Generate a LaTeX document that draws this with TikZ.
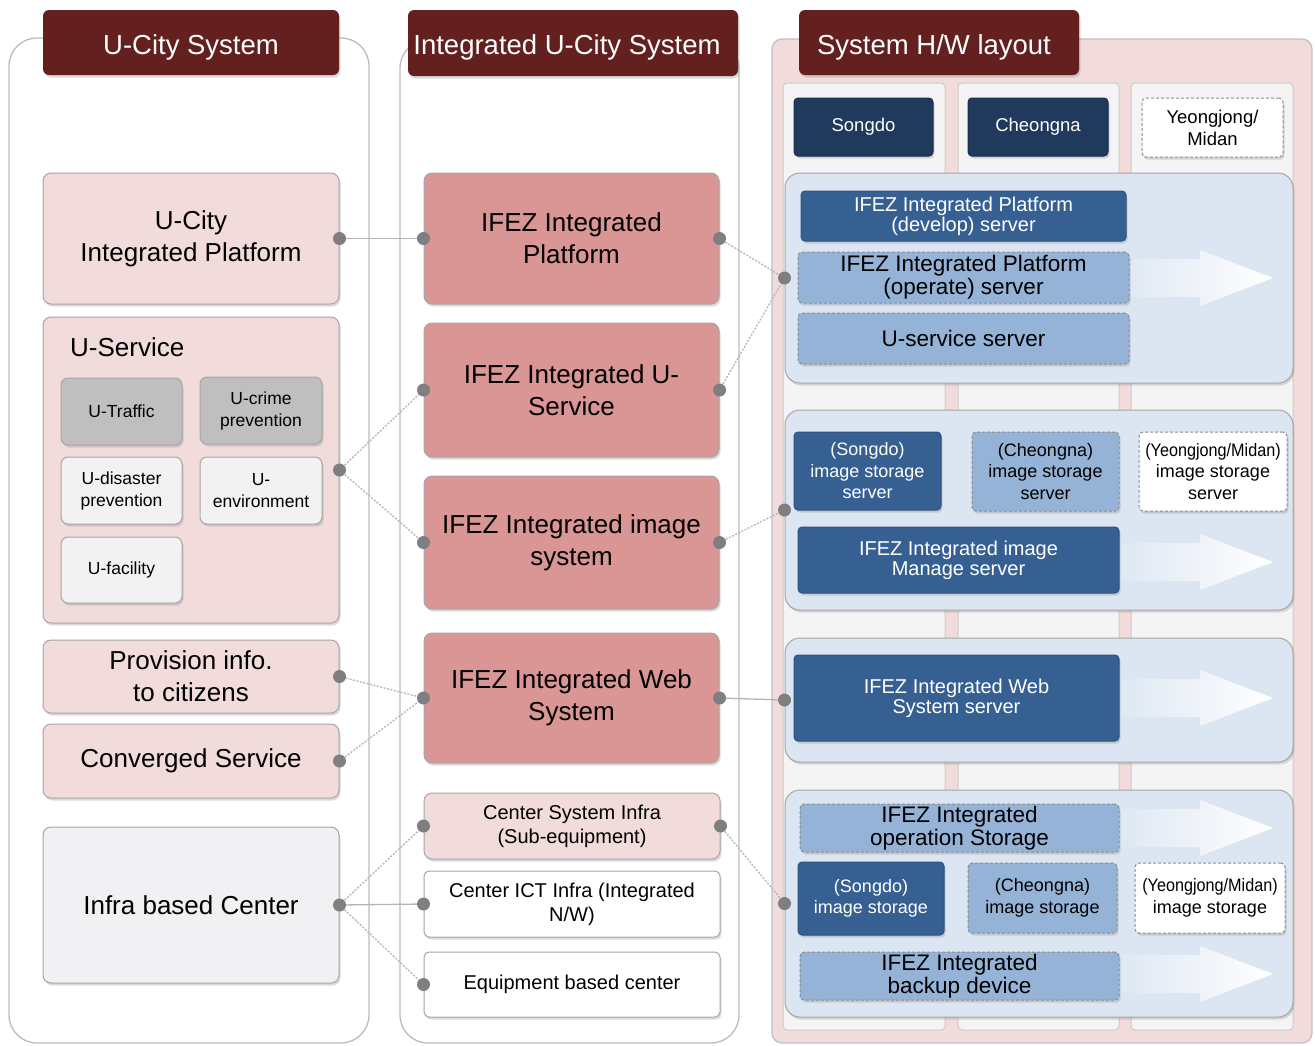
\documentclass[tikz,border=0pt]{standalone}
\usepackage{fontspec}
\setmainfont{Liberation Sans}
\newfontfamily\narrowfont[FakeStretch=0.9]{Liberation Sans}
\usetikzlibrary{shadows}
\definecolor{maroon}{HTML}{63201F}
\definecolor{pinkL}{HTML}{F2DCDB}
\definecolor{pinkD}{HTML}{D99694}
\definecolor{grayS}{HTML}{BFBFBF}
\definecolor{lightS}{HTML}{F2F2F2}
\definecolor{infraC}{HTML}{F1F1F3}
\definecolor{navy}{HTML}{1F3A5C}
\definecolor{midblue}{HTML}{366092}
\definecolor{lightblue}{HTML}{95B3D7}
\definecolor{bluebg}{HTML}{DCE6F2}
\definecolor{subcolC}{HTML}{F4F4F4}
\definecolor{dotC}{HTML}{7F7F7F}
\definecolor{lineC}{HTML}{B5B5B5}
\definecolor{borderC}{HTML}{A6A6A6}
\newcommand\mkbox[7]{\node[#2, minimum width={#5-#3}, minimum height={#6-#4}] (#1) at ({(#3+#5)/2},{(#4+#6)/2}) {#7};}
\newcommand\hwarrow[1]{\shade[left color=bluebg, right color=white] (1110,#1-19) -- (1200,#1-19) -- (1200,#1-28) -- (1273,#1) -- (1200,#1+28) -- (1200,#1+19) -- (1110,#1+19) -- cycle;}
\tikzset{
  f26/.style={font=\fontsize{26}{32}\selectfont},
  f27/.style={font=\fontsize{27.5}{32}\selectfont},
  f225/.style={font=\fontsize{22.5}{23}\selectfont},
  f20/.style={font=\fontsize{20}{24}\selectfont},
  f20s/.style={font=\fontsize{20}{20}\selectfont},
  f185/.style={font=\fontsize{18.5}{22}\selectfont},
  f18/.style={font=\fontsize{18}{21.5}\selectfont},
  f17/.style={font=\fontsize{17.5}{22}\selectfont},
  shad/.style={drop shadow={opacity=0.28, shadow xshift=1.5pt, shadow yshift=-2.5pt}},
  box/.style={rounded corners=8pt, draw=borderC, line width=1pt, align=center, inner sep=1pt, text=black, shad},
  hdr/.style={box, fill=maroon, draw=none, rounded corners=6pt},
  hdrtext/.style={text=white, f27, anchor=base, inner sep=0pt},
  pinkbox/.style={box, fill=pinkL},
  redbox/.style={box, fill=pinkD},
  graybox/.style={box, fill=grayS, rounded corners=7pt},
  ltbox/.style={box, fill=lightS, rounded corners=7pt},
  infrabox/.style={box, fill=infraC},
  whbox/.style={box, fill=white, rounded corners=5pt},
  navybox/.style={box, fill=navy, draw=navy!80!black, text=white, rounded corners=4pt},
  midbox/.style={box, fill=midblue, draw=midblue!85!black, text=white, rounded corners=4pt},
  ltbluedash/.style={box, fill=lightblue, draw=black!45, dash pattern=on 3pt off 2pt, rounded corners=4pt},
  whdash/.style={box, fill=white, draw=black!45, dash pattern=on 3pt off 2pt, rounded corners=4pt},
  grpbox/.style={box, fill=bluebg, draw=borderC, rounded corners=15pt},
  panel/.style={draw=borderC!75, line width=1.3pt, fill=white, rounded corners=28pt},
  rpanel/.style={draw=borderC!70, line width=1.3pt, fill=pinkL, rounded corners=10pt},
  subcol/.style={draw=black!20, line width=1pt, fill=subcolC, rounded corners=4pt},
  dot/.style={circle, fill=dotC, inner sep=0pt, minimum size=13pt},
  solidlink/.style={draw=lineC, line width=1.3pt},
  dotlink/.style={draw=lineC, line width=1.3pt, dash pattern=on 2pt off 1.5pt},
}
\begin{document}
\begin{tikzpicture}[x=1pt,y=-1pt]
\useasboundingbox (0,0) rectangle (1315,1045);
% panels
\draw[panel] (9,38) rectangle (369,1043);
\draw[panel] (400,40) rectangle (739,1043);
\draw[rpanel] (772,39) rectangle (1312,1043);
\draw[subcol] (783,83) rectangle (945,1030);
\draw[subcol] (958,83) rectangle (1119,1030);
\draw[subcol] (1131,83) rectangle (1293,1030);
% headers
\mkbox{h1}{hdr}{43}{10}{339}{75}{}
\mkbox{h2}{hdr}{408}{10}{738}{76}{}
\mkbox{h3}{hdr}{799}{10}{1079}{75}{}
\node[hdrtext] (h1t) at (191,54) {U-City System};
\node[hdrtext] (h2t) at (567,54) {Integrated U-City System};
\node[hdrtext] (h3t) at (934,54) {System H/W layout};
% column 1
\mkbox{ucip}{pinkbox,f26}{43}{173}{339}{304}{U-City\\Integrated Platform}
\mkbox{usv}{pinkbox}{43}{317}{339}{623}{}
\node[f26, anchor=west, inner sep=0pt] (usvt) at (70,347) {U-Service};
\mkbox{utr}{graybox,f17}{61}{378}{182}{445}{U-Traffic}
\mkbox{ucr}{graybox,f17}{200}{377}{322}{444}{U-crime\\prevention}
\mkbox{udi}{ltbox,f17}{61}{457}{182}{524}{U-disaster\\prevention}
\mkbox{uen}{ltbox,f17}{200}{457}{322}{524}{U-\\environment}
\mkbox{ufa}{ltbox,f17}{61}{537}{182}{603}{U-facility}
\mkbox{prov}{pinkbox,f26}{43}{640}{339}{713}{Provision info.\\to citizens}
\mkbox{conv}{pinkbox,f26}{43}{724}{339}{798}{Converged Service}
\mkbox{ibc}{infrabox,f26}{43}{827}{339}{983}{Infra based Center}
% column 2
\mkbox{ifp}{redbox,f26}{424}{173}{719}{304}{IFEZ Integrated\\Platform}
\mkbox{ifu}{redbox,f26}{424}{323}{719}{457}{IFEZ Integrated U-\\Service}
\mkbox{ifi}{redbox,f26}{424}{476}{719}{609}{IFEZ Integrated image\\system}
\mkbox{ifw}{redbox,f26}{424}{633}{719}{763}{IFEZ Integrated Web\\System}
\mkbox{csi}{pinkbox,f20}{424}{793}{720}{859}{Center System Infra\\(Sub-equipment)}
\mkbox{cict}{whbox,f20}{424}{871}{720}{937}{Center ICT Infra (Integrated\\N/W)}
\mkbox{ebc}{whbox,f20}{424}{952}{720}{1017}{Equipment based center}
% column 3 top
\mkbox{sg}{navybox,f185}{794}{98}{933}{156}{Songdo}
\mkbox{cn}{navybox,f185}{968}{98}{1108}{156}{Cheongna}
\mkbox{ym}{whdash,f185}{1142}{98}{1283}{157}{Yeongjong/\\Midan}
% group 1
\mkbox{g1}{grpbox}{785}{173}{1293}{383}{}
\hwarrow{278}
\mkbox{dev}{midbox,f20s}{801}{191}{1126}{241}{IFEZ Integrated Platform\\(develop) server}
\mkbox{ope}{ltbluedash,f225}{798}{252}{1129}{303}{IFEZ Integrated Platform\\(operate) server}
\mkbox{usr}{ltbluedash,f225}{798}{313}{1129}{364}{U-service server}
% group 2
\mkbox{g2}{grpbox}{785}{410}{1293}{610}{}
\hwarrow{562}
\mkbox{sis}{midbox,f18}{794}{432}{941}{510}{(Songdo)\\image storage\\server}
\mkbox{cis}{ltbluedash,f18}{972}{432}{1119}{511}{(Cheongna)\\image storage\\server}
\mkbox{yis}{whdash,f18}{1139}{432}{1287}{511}{{\narrowfont(Yeongjong/Midan)}\\image storage\\server}
\mkbox{ims}{midbox,f20s}{798}{527}{1119}{593}{IFEZ Integrated image\\Manage server}
% group 3
\mkbox{g3}{grpbox}{785}{638}{1293}{762}{}
\hwarrow{698}
\mkbox{wss}{midbox,f20s}{794}{655}{1119}{741}{IFEZ Integrated Web\\System server}
% group 4
\mkbox{g4}{grpbox}{785}{790}{1293}{1017}{}
\hwarrow{828}
\hwarrow{974}
\mkbox{ops}{ltbluedash,f225}{800}{804}{1119}{852}{IFEZ Integrated\\operation Storage}
\mkbox{sst}{midbox,f18}{798}{862}{944}{935}{(Songdo)\\image storage}
\mkbox{cst}{ltbluedash,f18}{968}{863}{1117}{933}{(Cheongna)\\image storage}
\mkbox{yst}{whdash,f18}{1135}{863}{1285}{933}{{\narrowfont(Yeongjong/Midan)}\\image storage}
\mkbox{bkp}{ltbluedash,f225}{800}{952}{1119}{1000}{IFEZ Integrated\\backup device}
% connectors
\draw[solidlink] (ucip.east) -- (ifp.west);
\draw[dotlink] (usv.east) -- (ifu.west);
\draw[dotlink] (usv.east) -- (ifi.west);
\draw[dotlink] (prov.east) -- (ifw.west);
\draw[dotlink] (conv.east) -- (ifw.west);
\draw[dotlink] (ibc.east) -- (csi.west);
\draw[solidlink] (ibc.east) -- (cict.west);
\draw[dotlink] (ibc.east) -- (ebc.west);
\draw[dotlink] (ifp.east) -- (g1.west);
\draw[dotlink] (ifu.east) -- (g1.west);
\draw[dotlink] (ifi.east) -- (g2.west);
\draw[solidlink] (ifw.east) -- (g3.west);
\draw[dotlink] (csi.east) -- (g4.west);
% dots
\foreach \n in {ucip,usv,prov,conv,ibc,ifp,ifu,ifi,ifw,csi}{\node[dot] (dot-\n-e) at (\n.east) {};}
\foreach \n in {ifp,ifu,ifi,ifw,csi,cict,ebc,g1,g2,g3,g4}{\node[dot] (dot-\n-w) at (\n.west) {};}
\end{tikzpicture}
\end{document}
